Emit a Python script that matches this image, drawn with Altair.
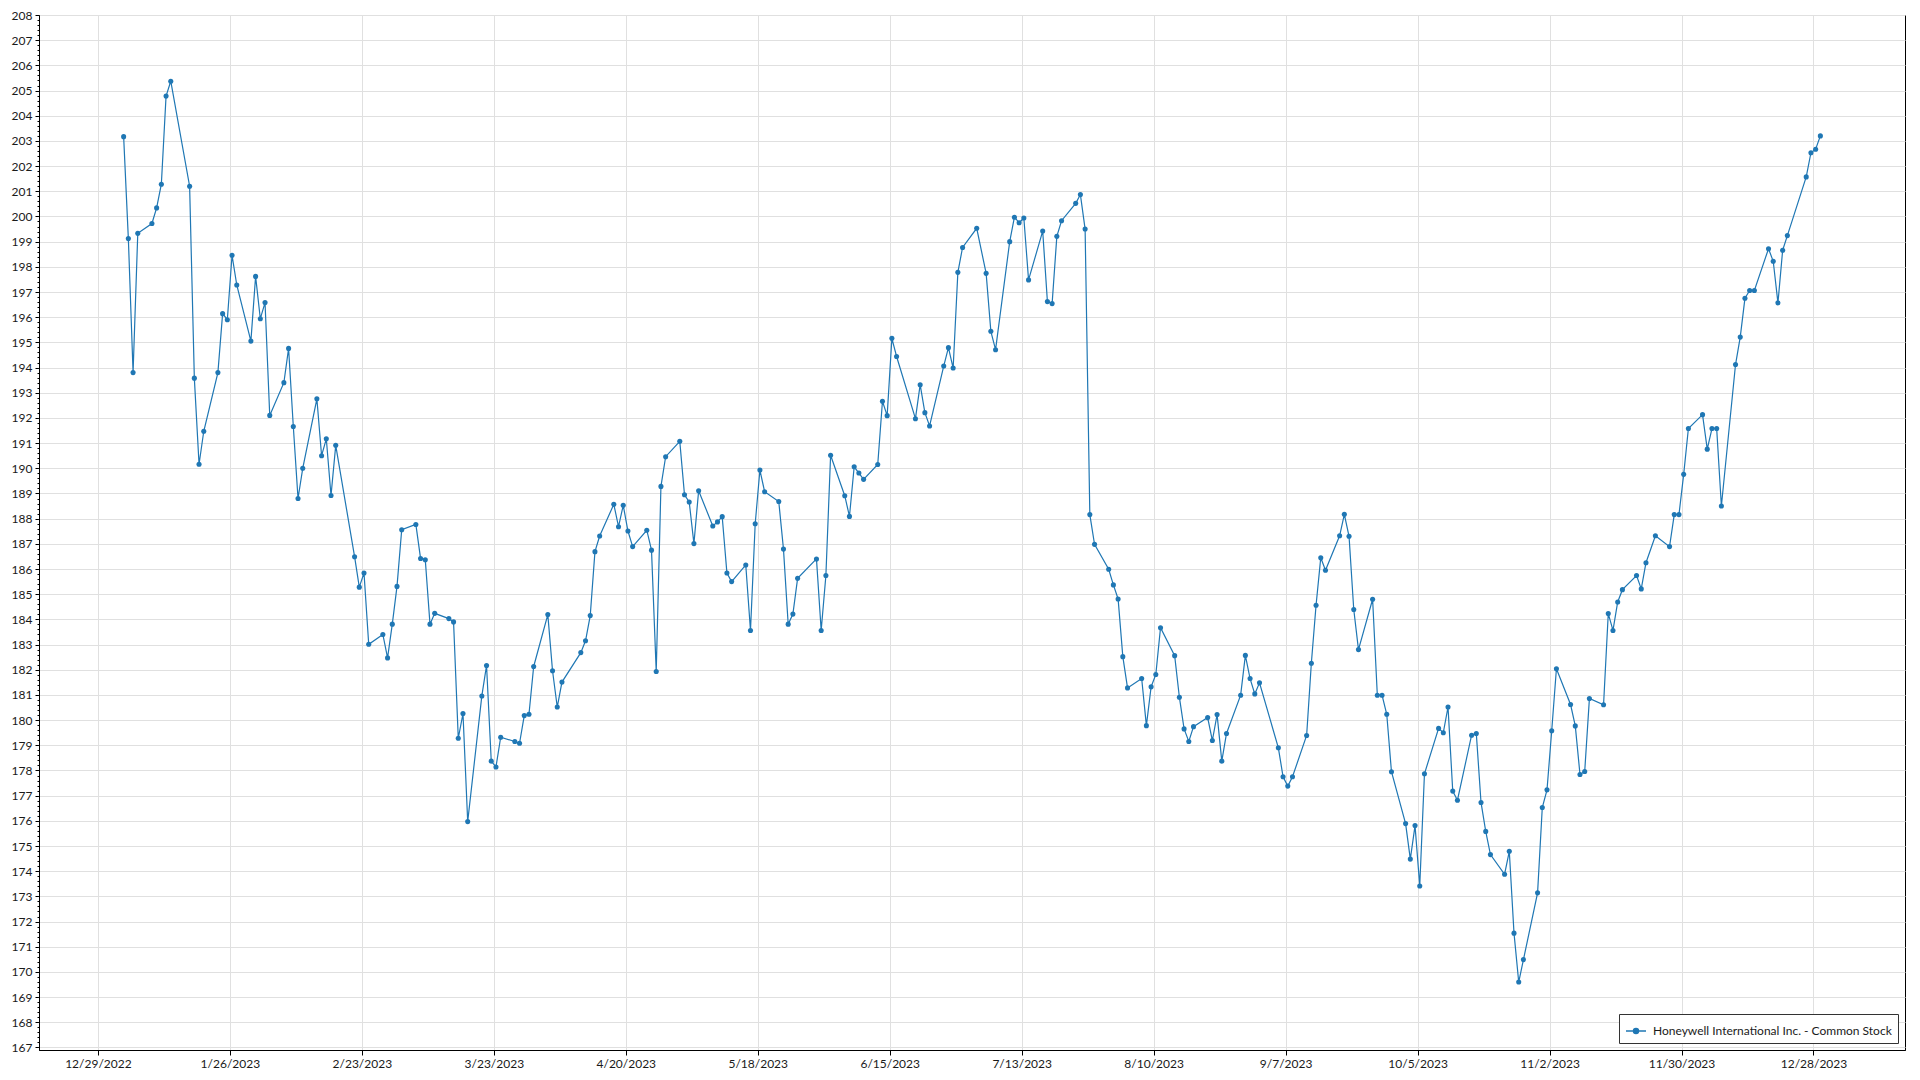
import altair as alt
import pandas as pd

series_name = "Honeywell International Inc. - Common Stock"

dates = [
    "2023-01-03", "2023-01-04", "2023-01-05", "2023-01-06", "2023-01-09", "2023-01-10", "2023-01-11", "2023-01-12", "2023-01-13",
    "2023-01-17", "2023-01-18", "2023-01-19", "2023-01-20", "2023-01-23", "2023-01-24", "2023-01-25", "2023-01-26", "2023-01-27",
    "2023-01-30", "2023-01-31",
    "2023-02-01", "2023-02-02", "2023-02-03", "2023-02-06", "2023-02-07", "2023-02-08", "2023-02-09", "2023-02-10",
    "2023-02-13", "2023-02-14", "2023-02-15", "2023-02-16", "2023-02-17", "2023-02-21", "2023-02-22", "2023-02-23", "2023-02-24",
    "2023-02-27", "2023-02-28",
    "2023-03-01", "2023-03-02", "2023-03-03", "2023-03-06", "2023-03-07", "2023-03-08", "2023-03-09", "2023-03-10",
    "2023-03-13", "2023-03-14", "2023-03-15", "2023-03-16", "2023-03-17", "2023-03-20", "2023-03-21", "2023-03-22", "2023-03-23",
    "2023-03-24", "2023-03-27", "2023-03-28", "2023-03-29", "2023-03-30", "2023-03-31",
    "2023-04-03", "2023-04-04", "2023-04-05", "2023-04-06", "2023-04-10", "2023-04-11", "2023-04-12", "2023-04-13", "2023-04-14",
    "2023-04-17", "2023-04-18", "2023-04-19", "2023-04-20", "2023-04-21", "2023-04-24", "2023-04-25", "2023-04-26", "2023-04-27",
    "2023-04-28",
    "2023-05-01", "2023-05-02", "2023-05-03", "2023-05-04", "2023-05-05", "2023-05-08", "2023-05-09", "2023-05-10", "2023-05-11",
    "2023-05-12", "2023-05-15", "2023-05-16", "2023-05-17", "2023-05-18", "2023-05-19", "2023-05-22", "2023-05-23", "2023-05-24",
    "2023-05-25", "2023-05-26", "2023-05-30", "2023-05-31",
    "2023-06-01", "2023-06-02", "2023-06-05", "2023-06-06", "2023-06-07", "2023-06-08", "2023-06-09", "2023-06-12", "2023-06-13",
    "2023-06-14", "2023-06-15", "2023-06-16", "2023-06-20", "2023-06-21", "2023-06-22", "2023-06-23", "2023-06-26", "2023-06-27",
    "2023-06-28", "2023-06-29", "2023-06-30",
    "2023-07-03", "2023-07-05", "2023-07-06", "2023-07-07", "2023-07-10", "2023-07-11", "2023-07-12", "2023-07-13", "2023-07-14",
    "2023-07-17", "2023-07-18", "2023-07-19", "2023-07-20", "2023-07-21", "2023-07-24", "2023-07-25", "2023-07-26", "2023-07-27",
    "2023-07-28", "2023-07-31",
    "2023-08-01", "2023-08-02", "2023-08-03", "2023-08-04", "2023-08-07", "2023-08-08", "2023-08-09", "2023-08-10", "2023-08-11",
    "2023-08-14", "2023-08-15", "2023-08-16", "2023-08-17", "2023-08-18", "2023-08-21", "2023-08-22", "2023-08-23", "2023-08-24",
    "2023-08-25", "2023-08-28", "2023-08-29", "2023-08-30", "2023-08-31",
    "2023-09-01", "2023-09-05", "2023-09-06", "2023-09-07", "2023-09-08", "2023-09-11", "2023-09-12", "2023-09-13", "2023-09-14",
    "2023-09-15", "2023-09-18", "2023-09-19", "2023-09-20", "2023-09-21", "2023-09-22", "2023-09-25", "2023-09-26", "2023-09-27",
    "2023-09-28", "2023-09-29",
    "2023-10-02", "2023-10-03", "2023-10-04", "2023-10-05", "2023-10-06", "2023-10-09", "2023-10-10", "2023-10-11", "2023-10-12",
    "2023-10-13", "2023-10-16", "2023-10-17", "2023-10-18", "2023-10-19", "2023-10-20", "2023-10-23", "2023-10-24", "2023-10-25",
    "2023-10-26", "2023-10-27", "2023-10-30", "2023-10-31",
    "2023-11-01", "2023-11-02", "2023-11-03", "2023-11-06", "2023-11-07", "2023-11-08", "2023-11-09", "2023-11-10", "2023-11-13",
    "2023-11-14", "2023-11-15", "2023-11-16", "2023-11-17", "2023-11-20", "2023-11-21", "2023-11-22", "2023-11-24", "2023-11-27",
    "2023-11-28", "2023-11-29", "2023-11-30",
    "2023-12-01", "2023-12-04", "2023-12-05", "2023-12-06", "2023-12-07", "2023-12-08", "2023-12-11", "2023-12-12", "2023-12-13",
    "2023-12-14", "2023-12-15", "2023-12-18", "2023-12-19", "2023-12-20", "2023-12-21", "2023-12-22", "2023-12-26", "2023-12-27",
    "2023-12-28", "2023-12-29",
]

prices = [
    203.17, 199.12, 193.80, 199.33, 199.72, 200.34, 201.28, 204.78, 205.37,
    201.20, 193.58, 190.16, 191.47, 193.80, 196.14, 195.90, 198.46, 197.28,
    195.05, 197.62,
    195.94, 196.58, 192.10, 193.40, 194.76, 191.66, 188.80, 190.00,
    192.76, 190.50, 191.17, 188.92, 190.91, 186.49, 185.28, 185.84, 183.01,
    183.40, 182.47,
    183.81, 185.31, 187.56, 187.77, 186.42, 186.37, 183.81, 184.24,
    184.03, 183.90, 179.28, 180.26, 175.97, 180.96, 182.17, 178.37, 178.14,
    179.32, 179.15, 179.08, 180.18, 180.23, 182.13,
    184.19, 181.96, 180.52, 181.51, 182.68, 183.15, 184.15, 186.69, 187.31,
    188.57, 187.68, 188.53, 187.51, 186.89, 187.54, 186.75, 181.93, 189.28,
    190.46,
    191.07, 188.95, 188.66, 187.01, 189.11, 187.71, 187.87, 188.08, 185.84,
    185.50, 186.16, 183.56, 187.80, 189.93, 189.07, 188.68, 186.79, 183.81,
    184.21, 185.63, 186.40, 183.56,
    185.74, 190.52, 188.91, 188.09, 190.06, 189.81, 189.56, 190.15, 192.66,
    192.09, 195.16, 194.44, 191.97, 193.32, 192.21, 191.68, 194.06, 194.79,
    193.98, 197.78, 198.77,
    199.53, 197.74, 195.44, 194.71, 199.00, 199.97, 199.75, 199.94, 197.48,
    199.42, 196.62, 196.54, 199.21, 199.83, 200.52, 200.87, 199.50, 188.16,
    186.98, 185.99,
    185.37, 184.81, 182.52, 181.28, 181.65, 179.78, 181.32, 181.81, 183.67,
    182.56, 180.91, 179.65, 179.15, 179.74, 180.10, 179.19, 180.22, 178.37,
    179.47, 180.99, 182.57, 181.65, 181.04,
    181.48, 178.90, 177.75, 177.38, 177.75, 179.39, 182.26, 184.56, 186.45,
    185.95, 187.32, 188.17, 187.30, 184.39, 182.80, 184.80, 180.99, 180.99,
    180.23, 177.95,
    175.89, 174.48, 175.81, 173.41, 177.87, 179.67, 179.50, 180.52, 177.18,
    176.82, 179.40, 179.47, 176.73, 175.58, 174.66, 173.88, 174.79, 171.54,
    169.60, 170.49, 173.14, 176.53,
    177.23, 179.58, 182.04, 180.62, 179.77, 177.84, 177.96, 180.86, 180.61,
    184.23, 183.56, 184.69, 185.18, 185.74, 185.21, 186.25, 187.32, 186.89,
    188.16, 188.16, 189.76,
    191.58, 192.13, 190.76, 191.58, 191.58, 188.50, 194.12, 195.21, 196.75,
    197.06, 197.06, 198.72, 198.22, 196.57, 198.66, 199.24, 201.57, 202.53,
    202.67, 203.20,
]

# x-axis tick dates (every 28 days), as (year, month, day)
x_tick_dates = [
    (2022, 12, 29), (2023, 1, 26), (2023, 2, 23), (2023, 3, 23), (2023, 4, 20),
    (2023, 5, 18), (2023, 6, 15), (2023, 7, 13), (2023, 8, 10), (2023, 9, 7),
    (2023, 10, 5), (2023, 11, 2), (2023, 11, 30), (2023, 12, 28),
]

y_min, y_max = 166.9, 208
y_tick_values = [round(167 + i * 0.2, 1) for i in range(0, 206)]

df = pd.DataFrame({
    "date": [d + "T11:00:00" for d in dates],
    "price": prices,
    "series": [series_name] * len(prices),
})

FONT = "Lato"
BLUE = "#1f77b4"
GRID = "#e0e0e0"

x_enc = alt.X(
    "date:T",
    scale=alt.Scale(
        domain=[
            alt.DateTime(year=2022, month=12, date=16, hours=12),
            alt.DateTime(year=2024, month=1, date=16, hours=10),
        ],
        nice=False,
    ),
    axis=alt.Axis(
        title=None,
        values=[alt.DateTime(year=y, month=m, date=d) for (y, m, d) in x_tick_dates],
        format="%-m/%-d/%Y",
        grid=True,
        gridColor=GRID,
        tickSize=5,
        tickColor="#000000",
        domainColor="#000000",
        labelPadding=3,
        labelFont=FONT,
        labelFontSize=12,
        labelColor="#1a1a1a",
        labelOverlap=False,
        labelFlush=False,
    ),
)

is_major = "abs(datum.value - round(datum.value)) < 0.01"

y_enc = alt.Y(
    "price:Q",
    scale=alt.Scale(domain=[y_min, y_max], nice=False, zero=False),
    axis=alt.Axis(
        title=None,
        values=y_tick_values,
        labelExpr=f"{is_major} ? format(datum.value, 'd') : ''",
        grid=True,
        gridColor=GRID,
        gridOpacity=alt.condition(is_major, alt.value(1), alt.value(0)),
        tickSize=alt.condition(is_major, alt.value(4), alt.value(2)),
        tickColor="#000000",
        domainColor="#000000",
        labelPadding=3,
        labelFont=FONT,
        labelFontSize=12,
        labelColor="#1a1a1a",
        labelOverlap=False,
        labelFlush=False,
    ),
)

legend_symbol = "M-1,0H1M-0.25,0A0.25,0.25 0 1,0 0.25,0A0.25,0.25 0 1,0 -0.25,0Z"

color_enc = alt.Color(
    "series:N",
    scale=alt.Scale(domain=[series_name], range=[BLUE]),
    legend=alt.Legend(
        title=None,
        orient="bottom-right",
        offset=7,
        padding=6,
        strokeColor="#333333",
        fillColor="#ffffff",
        symbolType=legend_symbol,
        symbolSize=400,
        symbolStrokeWidth=1.5,
        symbolFillColor=BLUE,
        symbolStrokeColor=BLUE,
        labelFont=FONT,
        labelFontSize=12,
        labelColor="#1a1a1a",
        labelOffset=6,
        labelLimit=400,
    ),
)

line = alt.Chart(df).mark_line(strokeWidth=1.2, color=BLUE).encode(x=x_enc, y=y_enc, color=color_enc)
pts = alt.Chart(df).mark_circle(size=26, opacity=1, color=BLUE).encode(x=x_enc, y=y_enc, color=color_enc)

chart = (
    alt.layer(line, pts)
    .properties(
        width=1866,
        height=1035,
        autosize=alt.AutoSizeParams(type="none"),
        padding={"left": 31, "top": 7, "right": 7, "bottom": 30},
        background="#ffffff",
    )
    .configure_view(stroke="#000000", strokeWidth=1)
)

chart.save("out.html", embed_options={"renderer": "svg", "actions": False})
